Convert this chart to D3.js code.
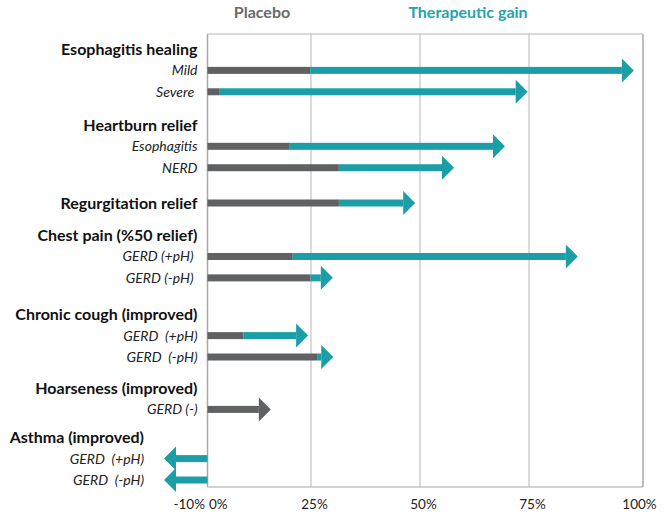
<!DOCTYPE html>
<html lang="en">
<head>
  <meta charset="utf-8">
  <title>Placebo vs therapeutic gain</title>
  <script src="https://d3js.org/d3.v7.min.js"></script>
  <style>
    body { margin: 0; background: #fff; }
    text { font-family: Lato, "Open Sans", sans-serif; }
    .heading { font-weight: bold; font-size: 16px; fill: #111; }
    .sub { font-style: italic; font-size: 14px; fill: #222; white-space: pre; }
    .tick text { font-size: 13.5px; fill: #222; }
  </style>
</head>
<body>
  <div id="chart"></div>

  <script>
    // data (percent of patients)
    const groups = ["Esophagitis healing", "Heartburn relief", "Regurgitation relief",
      "Chest pain (%50 relief)", "Chronic cough (improved)", "Hoarseness (improved)", "Asthma (improved)"];
    const rowGroup = [0, 0, 1, 1, 2, 3, 3, 4, 4, 5, 6, 6];
    const rowLabels = ["Mild", "Severe ", "Esophagitis", "NERD", "", "GERD (+pH)", "GERD (-pH)",
      "GERD  (+pH)", "GERD  (-pH)", "GERD (-)", "GERD  (+pH)", "GERD  (-pH)"];
    const placebo = [24.8, 2.8, 19.7, 31.4, 31.4, 20.6, 24.9, 8.7, 26.4, 15.3, 0, 0];
    const gain = [73.2, 71.9, 49.8, 26.4, 17.5, 65.1, 5.1, 15.6, 3.7, 0, -10, -10];
    const tickValues = [-10, 0, 25, 50, 75, 100];
    const legend = ["Placebo", "Therapeutic gain"];

    // spacing in front of each group heading (in rows)
    const groupGap = [0, 1.55, 1.65, 1.5, 1.7, 1.45, 1.3];

    const grey = "#5f6163", teal = "#1b9ea6";
    const width = 670, height = 523;

    const svg = d3.select("#chart").append("svg")
      .attr("width", width)
      .attr("height", height);

    // x scale, the gridlines in the picture are not evenly spaced
    const x = d3.scaleLinear()
      .domain([-10, 0, 25, 50, 75, 100])
      .range([164, 207.5, 311, 420, 529, 643]);

    // build the row layout
    var slot = 0, items = [];
    groups.forEach((g, gi) => {
      slot += groupGap[gi];
      const rows = d3.range(rowLabels.length).filter(i => rowGroup[i] == gi);
      const minVal = d3.min(rows, i => Math.min(0, gain[i]));
      const headingSlot = slot;
      var headBar = null;
      rows.forEach(i => {
        if (rowLabels[i] === "") { headBar = i; return; }
        slot += 1;
        items.push({kind: "sub", label: rowLabels[i], slot: slot, row: i, minVal: minVal, group: gi});
      });
      items.push({kind: "heading", label: g, slot: headingSlot, row: headBar, minVal: minVal, group: gi});
    });

    const y = d3.scaleLinear()
      .domain([0, slot])
      .range([49, 480]);

    const plotTop = 34, plotBottom = 487;

    // gridlines
    svg.append("g")
      .selectAll("line")
      .data([25, 50, 75])
      .join("line")
      .attr("x1", d => x(d)).attr("x2", d => x(d))
      .attr("y1", plotTop).attr("y2", plotBottom)
      .attr("stroke", "#cfcfcf")
      .attr("stroke-width", 1.5);

    // frame
    svg.append("line")
      .attr("x1", x(0)).attr("x2", x(100)).attr("y1", plotTop).attr("y2", plotTop)
      .attr("stroke", "#b5b5b5").attr("stroke-width", 1.2);
    svg.append("line")
      .attr("x1", x(0)).attr("x2", x(100)).attr("y1", plotBottom).attr("y2", plotBottom)
      .attr("stroke", "#c4c4c4").attr("stroke-width", 1.5);
    svg.append("g")
      .selectAll("line")
      .data([0, 100])
      .join("line")
      .attr("x1", d => x(d)).attr("x2", d => x(d))
      .attr("y1", plotTop).attr("y2", plotBottom)
      .attr("stroke", "#a8a8a8")
      .attr("stroke-width", 1.5);

    // x axis, -10% is written right next to 0%
    const xAxis = svg.append("g")
      .attr("transform", "translate(0," + plotBottom + ")")
      .call(d3.axisBottom(x).tickValues(tickValues).tickSize(0).tickPadding(12)
        .tickFormat(d => d + "%"));
    xAxis.select(".domain").remove();
    xAxis.selectAll(".tick text")
      .attr("text-anchor", d => d < 0 ? "end" : (d == 0 ? "start" : "middle"))
      .attr("dx", d => d < 0 ? x(0) - x(d) - 3 : (d == 0 ? 1 : (d == 100 ? -4 : 3)));

    // labels, the chest pain sub labels sit a bit more to the left
    svg.append("g")
      .selectAll("text")
      .data(items)
      .join("text")
      .attr("class", d => d.kind)
      .attr("x", d => d.minVal < 0 ? x(d.minVal) - 20 : x(0) - 10 - (d.kind == "sub" && d.group == 3 ? 4 : 0))
      .attr("y", d => y(d.slot))
      .attr("dy", "0.35em")
      .attr("text-anchor", "end")
      .text(d => d.label);

    // arrows
    const shaft = 7, headLen = 12, headHalf = 12;
    const bars = items.filter(d => d.row !== null).map(d => ({i: d.row, yy: y(d.slot)}));

    const arrows = svg.append("g")
      .selectAll("g")
      .data(bars)
      .join("g");

    // placebo part
    arrows.filter(d => placebo[d.i] > 0)
      .append("rect")
      .attr("x", x(0))
      .attr("y", d => d.yy - shaft / 2)
      .attr("width", d => {
        const end = gain[d.i] == 0 ? x(placebo[d.i]) - headLen : x(placebo[d.i]);
        return end - x(0);
      })
      .attr("height", shaft)
      .attr("fill", grey);

    // therapeutic gain part (positive)
    arrows.filter(d => gain[d.i] > 0)
      .append("rect")
      .attr("x", d => x(placebo[d.i]))
      .attr("y", d => d.yy - shaft / 2)
      .attr("width", d => Math.max(0, x(placebo[d.i] + gain[d.i]) - headLen - x(placebo[d.i])))
      .attr("height", shaft)
      .attr("fill", teal);

    // gain part (negative)
    arrows.filter(d => gain[d.i] < 0)
      .append("rect")
      .attr("x", d => x(gain[d.i]) + headLen)
      .attr("y", d => d.yy - shaft / 2)
      .attr("width", d => x(0) - x(gain[d.i]) - headLen)
      .attr("height", shaft)
      .attr("fill", teal);

    // heads
    arrows.append("path")
      .attr("d", d => {
        const tip = x(placebo[d.i] + gain[d.i]);
        const dir = gain[d.i] < 0 ? -1 : 1;
        return "M" + tip + "," + d.yy +
          "L" + (tip - dir * headLen) + "," + (d.yy - headHalf) +
          "L" + (tip - dir * headLen) + "," + (d.yy + headHalf) + "Z";
      })
      .attr("fill", d => gain[d.i] == 0 ? grey : teal);

    // legend
    svg.append("g")
      .selectAll("text")
      .data(legend)
      .join("text")
      .attr("x", (d, i) => i == 0 ? 262 : 468)
      .attr("y", 12)
      .attr("dy", "0.35em")
      .attr("text-anchor", "middle")
      .style("font-weight", "bold")
      .style("font-size", "16px")
      .attr("fill", (d, i) => i == 0 ? "#6a6a6a" : "#26a3ab")
      .text(d => d);
  </script>
</body>
</html>
